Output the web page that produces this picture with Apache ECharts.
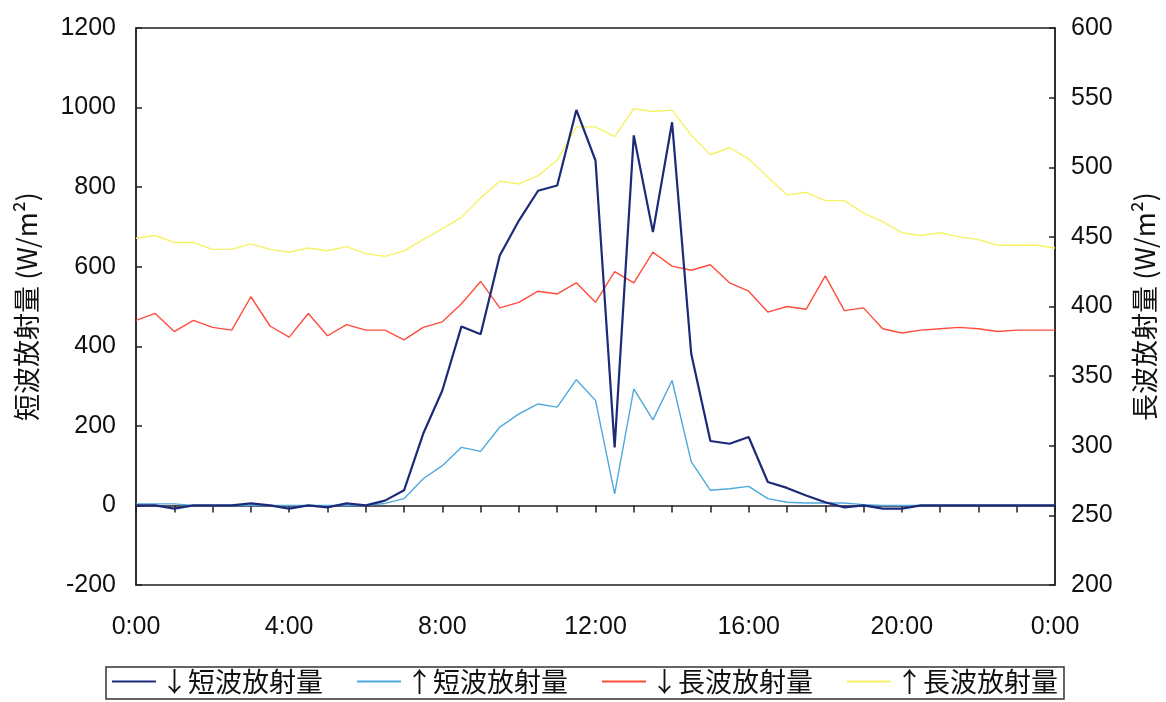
<!DOCTYPE html>
<html>
<head>
<meta charset="utf-8">
<script src="https://cdn.jsdelivr.net/npm/echarts@6/dist/echarts.min.js"></script>
<style>
html,body{margin:0;padding:0;background:#fff;}
#chart{width:1166px;height:702px;}
</style>
</head>
<body>
<div id="chart"></div>
<script>
const times = ["0:00","0:30","1:00","1:30","2:00","2:30","3:00","3:30","4:00","4:30","5:00","5:30","6:00","6:30","7:00","7:30","8:00","8:30","9:00","9:30","10:00","10:30","11:00","11:30","12:00","12:30","13:00","13:30","14:00","14:30","15:00","15:30","16:00","16:30","17:00","17:30","18:00","18:30","19:00","19:30","20:00","20:30","21:00","21:30","22:00","22:30","23:00","23:30","0:00"];

const seriesNames = ["↓短波放射量","↑短波放射量","↓長波放射量","↑長波放射量"];

const swDown = [0,0,-8,0,0,0,5,0,-8,0,-5,5,0,12,38,180,289,450,430,628,716,791,804,994,867,146,930,687,963,381,162,155,172,59,44,25,8,-5,0,-8,-8,0,0,0,0,0,0,0,0];

const swUp = [4,4,4,0,0,0,0,0,0,0,0,0,0,5,17,67,100,146,136,197,230,255,247,316,264,29,293,215,314,110,38,42,48,17,8,6,6,6,2,0,0,0,0,0,0,0,0,0,0];

const lwDown = [390,395,382,390,385,383,407,386,378,395,379,387,383,383,376,385,389,402,418,399,403,411,409,417,403,425,417,439,429,426,430,417,411,396,400,398,422,397,399,384,381,383,384,385,384,382,383,383,383];

const lwUp = [449,451,446,446,441,441,445,441,439,442,440,443,438,436,440,448,456,464,478,490,488,494,505,529,529,522,542,540,541,523,509,514,506,493,480,482,476,476,467,461,453,451,453,450,448,444,444,444,442];

const leftTicks = {min:-200, max:1200, step:200};
const rightTicks = {min:200, max:600, step:50};

const leftName = "短波放射量 (W/m²)";
const rightName = "長波放射量 (W/m²)";

const colors = ["#1c2a78","#4fa8dc","#ff4d3d","#f6f266"];

const font = "'Liberation Sans Narrow','Liberation Sans',Arial,sans-serif";
const cjk = "'Noto Sans CJK JP','Noto Sans CJK SC',sans-serif";

const chart = echarts.init(document.getElementById('chart'), null, {renderer:'canvas'});
chart.setOption({
  animation:false,
  backgroundColor:'#ffffff',
  grid:{left:136,right:108,top:28,bottom:117,show:true,borderColor:'#222',borderWidth:1.5,backgroundColor:'transparent'},
  legend:{
    data:seriesNames,
    left:106, top:667,
    icon:'rect',
    borderColor:'#333', borderWidth:1.5,
    padding:[1,6,4,6],
    itemWidth:44, itemHeight:2, itemGap:34,
    textStyle:{fontFamily:cjk,fontSize:27,color:'#111'}
  },
  xAxis:[{
    type:'category', data:times, boundaryGap:false,
    axisLine:{onZero:true,lineStyle:{color:'#222',width:1.5}},
    axisTick:{show:true,interval:1,length:7,inside:false,lineStyle:{color:'#222',width:1.5}},
    axisLabel:{show:false},
    splitLine:{show:false}
  },{
    type:'category', data:times, boundaryGap:false, position:'bottom',
    axisLine:{show:false,onZero:false},
    axisTick:{show:false},
    axisLabel:{show:true,interval:7,margin:30,fontSize:25,fontFamily:font,color:'#111'},
    splitLine:{show:false}
  }],
  yAxis:[{
    type:'value', min:leftTicks.min, max:leftTicks.max, interval:leftTicks.step,
    position:'left',
    name:leftName, nameLocation:'middle', nameGap:96, nameRotate:90,
    nameTextStyle:{fontFamily:cjk,fontSize:27,color:'#111'},
    axisLine:{show:true,lineStyle:{color:'#222',width:1.5}},
    axisTick:{show:true,inside:true,length:6,lineStyle:{color:'#222',width:1.5}},
    axisLabel:{margin:20,fontSize:25,fontFamily:font,color:'#111',formatter:function(v){return String(v);}},
    splitLine:{show:false}
  },{
    type:'value', min:rightTicks.min, max:rightTicks.max, interval:rightTicks.step,
    position:'right',
    name:rightName, nameLocation:'middle', nameGap:76, nameRotate:90,
    nameTextStyle:{fontFamily:cjk,fontSize:27,color:'#111'},
    axisLine:{show:true,lineStyle:{color:'#222',width:1.5}},
    axisTick:{show:true,inside:true,length:6,lineStyle:{color:'#222',width:1.5}},
    axisLabel:{margin:16,fontSize:25,fontFamily:font,color:'#111',formatter:function(v){return String(v);}},
    splitLine:{show:false}
  }],
  series:[
    {name:seriesNames[0],type:'line',data:swDown,yAxisIndex:0,xAxisIndex:0,symbol:'none',lineStyle:{color:colors[0],width:2.2},itemStyle:{color:colors[0]},z:5},
    {name:seriesNames[1],type:'line',data:swUp,yAxisIndex:0,xAxisIndex:0,symbol:'none',lineStyle:{color:colors[1],width:1.4},itemStyle:{color:colors[1]},z:4},
    {name:seriesNames[2],type:'line',data:lwDown,yAxisIndex:1,xAxisIndex:0,symbol:'none',lineStyle:{color:colors[2],width:1.4},itemStyle:{color:colors[2]},z:3},
    {name:seriesNames[3],type:'line',data:lwUp,yAxisIndex:1,xAxisIndex:0,symbol:'none',lineStyle:{color:colors[3],width:1.4},itemStyle:{color:colors[3]},z:3}
  ]
});
</script>
</body>
</html>
